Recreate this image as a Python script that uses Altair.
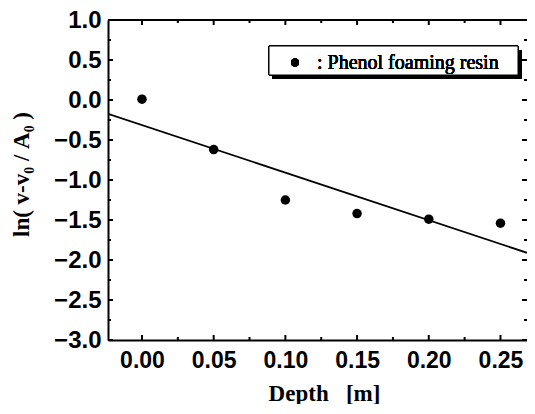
import altair as alt
import pandas as pd

# ---- data ----
depth = [0.00, 0.05, 0.10, 0.15, 0.20, 0.25]
ln_ratio = [0.01, -0.62, -1.25, -1.42, -1.49, -1.54]
fit_x = [-0.0237, 0.2685]
fit_y = [-0.173, -1.910]
series_name = "Phenol foaming resin"

x_major = [0.00, 0.05, 0.10, 0.15, 0.20, 0.25]
x_minor = [0.025, 0.075, 0.125, 0.175, 0.225]
y_major = [-3.0, -2.5, -2.0, -1.5, -1.0, -0.5, 0.0, 0.5, 1.0]
y_minor = [-2.75, -2.25, -1.75, -1.25, -0.75, -0.25, 0.25, 0.75]

NB = "\u00a0"
x_title = "Depth" + NB * 3 + "[m]"
y_title = "ln(" + NB + "v-v\u2080" + NB + "/" + NB + "A\u2080" + NB + ")"

W, H = 419, 320
x_dom = [-0.0237, 0.2685]
y_dom = [-3.0, 1.0]

xs = alt.Scale(domain=x_dom, nice=False, zero=False)
ys = alt.Scale(domain=y_dom, nice=False, zero=False)

pts_df = pd.DataFrame({"x": depth, "y": ln_ratio})
fit_df = pd.DataFrame({"x": fit_x, "y": fit_y})

x_axis = alt.Axis(
    values=x_major, format=".2f", labelFont="Liberation Sans", labelFontWeight="bold",
    labelFontSize=23, labelColor="black", ticks=False, labelPadding=9,
    labelFlush=False, labelOverlap=False, domainColor="black", domainWidth=2,
    grid=False, title=x_title, titleFont="Liberation Serif", titleFontSize=23,
    titleFontWeight="bold", titleColor="black", titleX=216, titleY=42,
    titleBaseline="top", titleAlign="center",
)
y_axis = alt.Axis(
    values=y_major, format=".1f", labelFont="Liberation Sans", labelFontWeight="bold",
    labelFontSize=24, labelColor="black", ticks=False, labelPadding=7,
    labelFlush=False, labelOverlap=False, domainColor="black", domainWidth=2,
    grid=False, title=y_title, titleFont="Liberation Serif", titleFontSize=23,
    titleFontWeight="bold", titleColor="black", titleX=-98, titleY=154,
    titleBaseline="top", titleAlign="center", titleAngle=270,
)

points = alt.Chart(pts_df).mark_circle(size=90, color="black", opacity=1).encode(
    x=alt.X("x:Q", scale=xs, axis=x_axis),
    y=alt.Y("y:Q", scale=ys, axis=y_axis),
)

fit = alt.Chart(fit_df).mark_line(color="black", strokeWidth=1.8, clip=True).encode(
    x=alt.X("x:Q", scale=xs, axis=x_axis),
    y=alt.Y("y:Q", scale=ys, axis=y_axis),
)


def yticks(vals, x0, x1):
    return alt.Chart(pd.DataFrame({"v": vals})).mark_rule(color="black", strokeWidth=2).encode(
        y=alt.Y("v:Q", scale=ys, axis=y_axis), x=alt.value(x0), x2=alt.value(x1)
    )


def xticks(vals, y0, y1):
    return alt.Chart(pd.DataFrame({"v": vals})).mark_rule(color="black", strokeWidth=2).encode(
        x=alt.X("v:Q", scale=xs, axis=x_axis), y=alt.value(y0), y2=alt.value(y1)
    )


ticks = [
    yticks(y_major, 0, 5), yticks(y_minor, 0, 3),
    yticks(y_major, W, W - 5), yticks(y_minor, W, W - 3),
    xticks(x_major, H, H - 5), xticks(x_minor, H, H - 3),
    xticks(x_major, 0, 5), xticks(x_minor, 0, 3),
]

top_border = alt.Chart(pts_df).mark_rule(color="black", strokeWidth=2).encode(
    x=alt.value(0), x2=alt.value(W), y=alt.value(0)
)

# legend box with drop shadow
shadow = alt.Chart(pts_df).mark_rect(color="black").encode(
    x=alt.value(164), x2=alt.value(414), y=alt.value(30), y2=alt.value(59)
)
box = alt.Chart(pts_df).mark_rect(fill="white", stroke="black", strokeWidth=1).encode(
    x=alt.value(161), x2=alt.value(410), y=alt.value(26), y2=alt.value(55)
)
leg_dot = alt.Chart(pts_df).mark_circle(size=64, color="black", opacity=1).encode(
    x=alt.value(187), y=alt.value(42.5)
)
leg_text = alt.Chart(pts_df).mark_text(
    text=": " + series_name, font="Liberation Serif", fontSize=20, fontWeight="normal",
    align="left", baseline="middle", color="black",
).encode(x=alt.value(209), y=alt.value(42.5))

chart = alt.layer(
    fit, points, *ticks, top_border, shadow, box, leg_dot, leg_text
).properties(
    width=W, height=H,
    padding={"left": 100, "top": 12, "right": 0, "bottom": 64},
    autosize=alt.AutoSizeParams(type="none"),
).configure_view(stroke=None)

chart.save("out.html", embed_options={"renderer": "svg", "actions": False})
